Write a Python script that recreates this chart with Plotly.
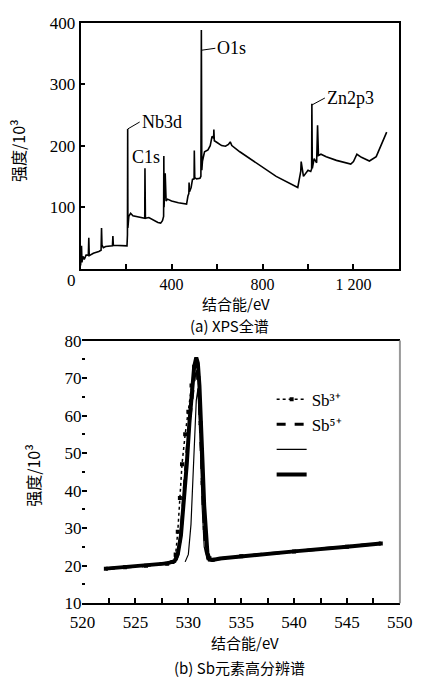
import plotly.graph_objects as go

# ---------- (a) XPS survey ----------
survey_ev = [0, 4, 6, 10, 16, 24, 34, 36, 38, 56, 80, 90, 92, 94, 100, 110, 140, 142, 144, 170, 195,
             204, 206, 207, 208, 212, 220, 230, 250, 275, 282, 283, 285, 300, 320, 340, 352, 360, 365,
             366, 367, 372, 375, 376, 382, 400, 430, 455, 466, 472, 476, 477, 479, 486, 492, 499, 500,
             502, 510, 525, 529, 531, 533, 536, 545, 560, 570, 578, 585, 586, 588, 600, 620, 637, 650,
             658, 665, 700, 780, 860, 955, 963, 968, 970, 980, 1000, 1012, 1016, 1017, 1019, 1027, 1038,
             1042, 1046, 1057, 1080, 1125, 1160, 1188, 1200, 1215, 1235, 1270, 1300, 1320, 1346]
survey_int = [5, 37, 10, 20, 15, 22, 22, 50, 21, 25, 28, 30, 66, 38, 34, 36, 37, 53, 38, 38, 37,
              37, 55, 227, 66, 85, 90, 86, 84, 82, 82, 163, 82, 83, 79, 75, 74, 78, 85,
              183, 100, 155, 112, 110, 113, 110, 107, 105, 105, 118, 122, 140, 125, 132, 145, 146, 192,
              148, 146, 147, 150, 388, 160, 175, 190, 193, 200, 215, 212, 226, 208, 205, 200, 199, 202,
              206, 200, 190, 170, 150, 132, 150, 158, 174, 150, 160, 158, 162, 268, 163, 179, 172,
              233, 184, 186, 182, 176, 172, 170, 174, 186, 181, 175, 182, 200, 222]

peak_labels = ["Nb3d", "C1s", "O1s", "Zn2p3"]
peak_ev = [207, 288, 531, 1017]
peak_lbl_y = [227, 181, 355, 266]

# ---------- (b) Sb high-resolution ----------
env_ev = [522.2, 524, 526, 528, 528.7, 529.0, 529.3, 529.6, 529.85, 530.1, 530.35, 530.55, 530.75, 530.9,
          531.05, 531.2, 531.35, 531.5, 531.65, 531.8, 532.0, 532.3, 533, 535, 540, 545, 548.2]
env_int = [19.2, 19.6, 20.1, 20.6, 21.2, 23.0, 28, 37, 47, 58, 67, 73, 75.5, 74,
           68, 60, 47, 36, 28, 23.5, 21.6, 21.5, 21.9, 22.5, 23.8, 25.0, 25.9]

sb3_ev = [522.2, 524, 526, 528, 528.5, 528.8, 529.0, 529.2, 529.4, 529.7, 530.0, 530.3, 530.55, 530.75,
          530.95, 531.15, 531.35, 531.55, 531.75, 532.0, 532.3, 535, 540, 545, 548.2]
sb3_int = [19.2, 19.6, 20.0, 20.5, 21, 23, 29, 38, 47, 55, 61, 68, 73, 74,
           70, 58, 42, 30, 24, 22, 21.6, 22.5, 23.8, 25.0, 25.9]

sb5_ev = [522.2, 526, 528.8, 529.1, 529.35, 529.6, 529.85, 530.1, 530.35, 530.6, 530.8, 531.0, 531.2,
          531.4, 531.6, 531.85, 532.2, 535, 540, 545, 548.2]
sb5_int = [19.2, 20.0, 21, 24, 30, 41, 50, 58, 65, 71, 73, 67, 52,
           36, 26, 22, 21.6, 22.5, 23.8, 25.0, 25.9]

fit_ev = [529.7, 530.0, 530.25, 530.5, 530.75, 530.9, 531.1, 531.3, 531.5, 531.8]
fit_int = [21, 23, 31, 48, 64, 67, 55, 36, 25, 21.5]

legend_names = ["Sb³⁺", "Sb⁵⁺", "", ""]

SERIF = "Liberation Serif"
CJK = "Noto Sans CJK SC"

fig = go.Figure()

fig.add_trace(go.Scatter(x=survey_ev, y=survey_int, mode="lines", line=dict(color="black", width=1.6),
                         showlegend=False, xaxis="x", yaxis="y"))

fig.add_trace(go.Scatter(x=sb3_ev, y=sb3_int, mode="lines+markers", name=legend_names[0],
                         line=dict(color="black", width=1.5, dash="dot"),
                         marker=dict(symbol="square", size=4, color="black"),
                         xaxis="x2", yaxis="y2"))
fig.add_trace(go.Scatter(x=sb5_ev, y=sb5_int, mode="lines", name=legend_names[1],
                         line=dict(color="black", width=3, dash="dash"),
                         xaxis="x2", yaxis="y2"))
fig.add_trace(go.Scatter(x=fit_ev, y=fit_int, mode="lines", name=legend_names[2],
                         line=dict(color="black", width=1.2),
                         xaxis="x2", yaxis="y2"))
fig.add_trace(go.Scatter(x=env_ev, y=env_int, mode="lines", name=legend_names[3],
                         line=dict(color="black", width=4),
                         xaxis="x2", yaxis="y2"))

tickfont = dict(family=SERIF, size=17, color="black")
tickfont_top_x = dict(family=SERIF, size=16, color="black")

annotations = []
offsets = {"Nb3d": (12, -7), "O1s": (14, -2), "Zn2p3": (13, -7)}
for lbl, xv, yv in zip(peak_labels, peak_ev, peak_lbl_y):
    if lbl in offsets:
        ax, ay = offsets[lbl]
        annotations.append(dict(x=xv, y=yv, xref="x", yref="y", text=lbl, showarrow=True,
                                arrowhead=0, arrowwidth=1, arrowcolor="black", ax=ax, ay=ay,
                                xanchor="left", standoff=0,
                                font=dict(family=SERIF, size=18, color="black")))
    else:
        annotations.append(dict(x=xv, y=yv, xref="x", yref="y", text=lbl, showarrow=False,
                                font=dict(family=SERIF, size=18, color="black")))

annotations.append(dict(x=0, y=0, xref="x", yref="y", text="0", showarrow=False, xanchor="right",
                        yanchor="top", xshift=-3, font=tickfont))

def txt(x, y, t, size=16, angle=0, family=CJK):
    annotations.append(dict(x=x, y=y, xref="paper", yref="paper", text=t, showarrow=False,
                            textangle=angle, xanchor="center", yanchor="middle",
                            font=dict(family=family + ", " + SERIF, size=size, color="black")))

txt(0.012, 0.789, "强度/10³", 16, -90)
txt(0.05, 0.3023, "强度/10³", 16, -90)
txt(0.557, 1 - 303 / 688, "结合能/eV", 15)
txt(0.539, 1 - 325 / 688, "(a) XPS全谱", 15)
txt(0.578, 1 - 651 / 688, "结合能/eV", 15)
txt(0.564, 1 - 677 / 688, "(b) Sb元素高分辨谱", 15)

shapes = [dict(type="line", xref="x2 domain", yref="y2 domain", x0=1, x1=1, y0=0, y1=1,
               line=dict(color="#999999", width=2))]

fig.update_layout(
    width=427, height=688,
    margin=dict(l=0, r=0, t=0, b=0),
    paper_bgcolor="white", plot_bgcolor="white",
    xaxis=dict(domain=[0.1686, 0.9625], anchor="y", range=[0, 1400],
               tickvals=[400, 800, 1200], ticktext=["400", "800", "1 200"],
               ticks="inside", ticklen=5, tickcolor="black", tickwidth=1.5,
               minor=dict(tickvals=[0, 200, 600, 1000], ticks="inside", ticklen=5, tickcolor="black"),
               showline=True, linecolor="black", linewidth=2, mirror=True,
               showgrid=False, zeroline=False, tickfont=tickfont_top_x, ticklabelstandoff=0),
    yaxis=dict(domain=[0.6119, 0.9797], anchor="x", range=[0, 400],
               tickvals=[100, 200, 300, 400],
               ticks="inside", ticklen=4, tickcolor="black", tickwidth=1.5,
               showline=True, linecolor="black", linewidth=2, mirror=True,
               showgrid=False, zeroline=False, tickfont=tickfont),
    xaxis2=dict(domain=[0.1733, 0.9649], anchor="y2", range=[519.99, 550.01],
                tickvals=[520, 525, 530, 535, 540, 545, 550],
                ticks="inside", ticklen=5, tickcolor="black", tickwidth=1.5,
                minor=dict(dtick=2.5, ticks="inside", ticklen=5, tickcolor="black"),
                showline=True, linecolor="black", linewidth=2, mirror=True,
                showgrid=False, zeroline=False, tickfont=tickfont, ticklabelstandoff=2),
    yaxis2=dict(domain=[0.1119, 0.5044], anchor="x2", range=[10, 80], dtick=10,
                ticks="inside", ticklen=5, tickcolor="black", tickwidth=1.5,
                minor=dict(dtick=5, ticks="inside", ticklen=3, tickcolor="black"),
                showline=False, showgrid=False, zeroline=False, tickfont=tickfont),
    legend=dict(x=0.645, y=0.443, xanchor="left", yanchor="top", bgcolor="rgba(0,0,0,0)",
                font=dict(family=SERIF, size=17, color="black"), tracegroupgap=0, itemwidth=30),
    annotations=annotations,
    shapes=shapes,
)

fig.write_html("out.html")
